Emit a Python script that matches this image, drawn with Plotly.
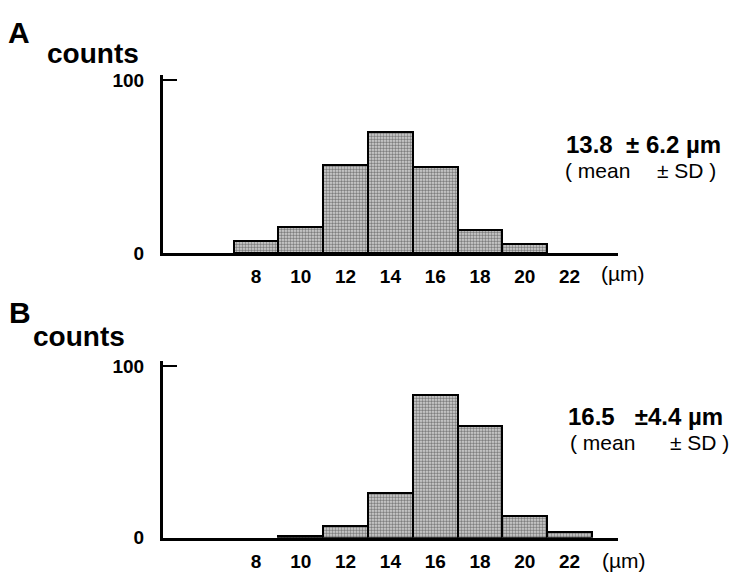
import plotly.graph_objects as go

# Panel A data
a_bins = [8, 10, 12, 14, 16, 18, 20]
a_counts = [7, 15, 51, 70, 50, 13.5, 5.5]
# Panel B data
b_bins = [10, 12, 14, 16, 18, 20, 22]
b_counts = [1, 7, 26, 83, 65, 13, 3.5]

x_ticks = [8, 10, 12, 14, 16, 18, 20, 22]
y_ticks = [0, 100]
y_tick_text = ["0", "100"]

a_stat = "13.8  ± 6.2 µm"
b_stat = "16.5   ±4.4 µm"
sub_left = "( mean"
sub_right = "± SD )"

FONT = "Liberation Sans, Arial, sans-serif"

OFF = 8  # browser default body margin
W, H = 739 - 2 * OFF, 582 - 2 * OFF

def px(x):
    return (x - OFF) / W

def py(y):
    return 1 - (y - OFF) / H

fig = go.Figure()

bar_style = dict(
    width=2,
    marker=dict(
        color="#c4c4c4",
        line=dict(color="black", width=2),
        pattern=dict(shape=".", fgcolor="#1a1a1a", bgcolor="#dcdcdc", size=3, solidity=0.55),
    ),
    showlegend=False,
)

fig.add_trace(go.Bar(x=a_bins, y=a_counts, xaxis="x", yaxis="y", **bar_style))
fig.add_trace(go.Bar(x=b_bins, y=b_counts, xaxis="x2", yaxis="y2", **bar_style))

xrange = [3.85, 24.16]

def xa(anchor):
    return dict(
        domain=[px(163), px(618)], range=xrange, anchor=anchor,
        showline=True, linecolor="black", linewidth=3,
        tickvals=x_ticks, ticktext=[str(v) for v in x_ticks],
        ticks="", showgrid=False, zeroline=False, ticklabelstandoff=4,
        tickfont=dict(family=FONT, size=19, color="black", weight="bold"),
    )

def ya(anchor, dom):
    return dict(
        domain=dom, range=[0, 103], anchor=anchor,
        showline=True, linecolor="black", linewidth=3,
        tickvals=y_ticks, ticktext=y_tick_text,
        ticks="inside", ticklen=14, tickwidth=2, tickcolor="black",
        ticklabelstandoff=12,
        showgrid=False, zeroline=False,
        tickfont=dict(family=FONT, size=19, color="black", weight="bold"),
    )

fig.update_layout(
    width=W, height=H,
    margin=dict(l=0, r=0, t=0, b=0),
    paper_bgcolor="white", plot_bgcolor="white",
    bargap=0,
    xaxis=xa("y"),
    yaxis=ya("x", [py(255), py(71.7)]),
    xaxis2=xa("y2"),
    yaxis2=ya("x2", [py(548), py(366)]),
)

def ann(text, x, y, size, bold=True, xanchor="left"):
    fig.add_annotation(
        text=text, x=px(x), y=py(y), xref="paper", yref="paper",
        showarrow=False, xanchor=xanchor, yanchor="middle", borderpad=0,
        font=dict(family=FONT, size=size, color="black", weight="bold" if bold else "normal"),
    )

ann("A", 7, 28, 30)
ann("counts", 46, 50, 28)
ann("B", 8, 316, 30)
ann("counts", 32, 341, 28)
ann("(µm)", 600, 276, 21, bold=False)
ann("(µm)", 601, 571, 21, bold=False)
ann(a_stat, 565, 143.5, 24)
ann(sub_left, 564, 170, 21, bold=False)
ann(sub_right, 656, 170, 21, bold=False)
ann(b_stat, 567, 423.5, 24)
ann(sub_left, 569, 450, 21, bold=False)
ann(sub_right, 669, 450, 21, bold=False)

fig.write_html("out.html")
